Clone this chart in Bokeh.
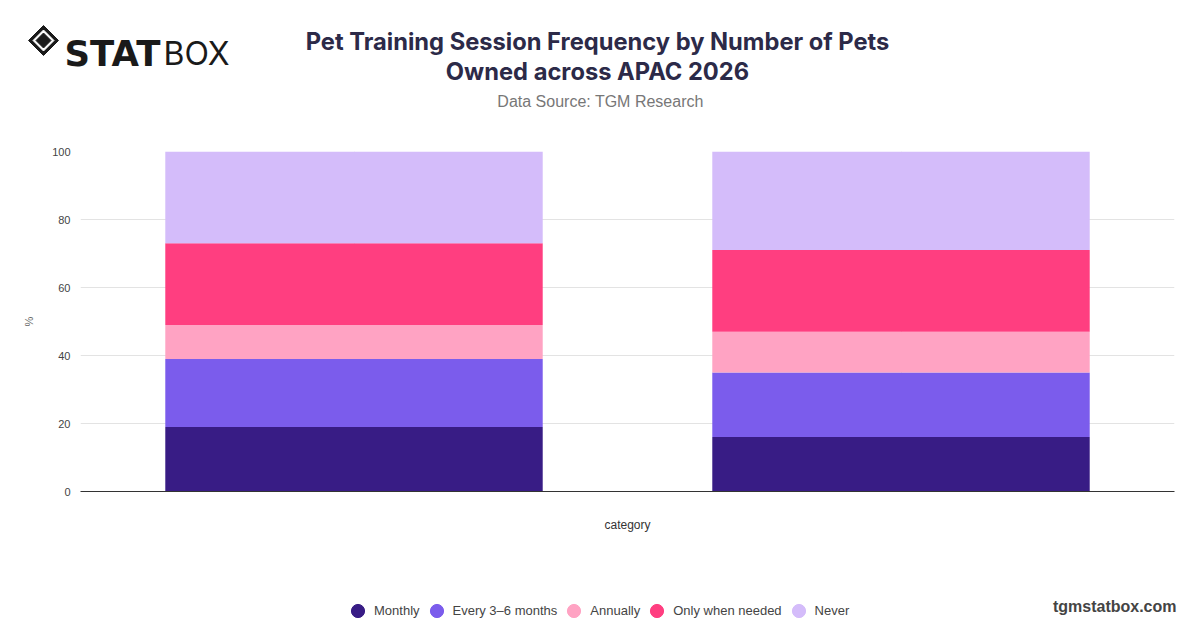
from bokeh.plotting import figure
from bokeh.layouts import column, row
from bokeh.models import (FactorRange, Range1d, Label, Legend, LegendItem,
                          PolyAnnotation, FixedTicker, ColumnDataSource, LinearAxis)
from bokeh.embed import file_html
from bokeh.resources import INLINE

# ---- data ----
categories = ["One pet", "Multiple pets"]
series = ["Monthly", "Every 3\u20136 months", "Annually", "Only when needed", "Never"]
monthly = [19, 16]
every_3_6 = [20, 19]
annually = [10, 12]
only_when_needed = [24, 24]
never = [27, 29]
colors = ["#381c85", "#7b5cec", "#ffa3c3", "#ff3e80", "#d4bcfa"]
y_ticks = [0, 20, 40, 60, 80, 100]

title_1 = "Pet Training Session Frequency by Number of Pets"
title_2 = "Owned across APAC 2026"
subtitle = "Data Source: TGM Research"
site = "tgmstatbox.com"

W = 1190
H_HEAD, H_MAIN, H_FOOT = 143, 413, 68
FX0, FX1 = 80, 1174


def blank(h):
    f = figure(width=W, height=h, x_range=Range1d(0, W), y_range=Range1d(0, h),
               x_axis_type=None, y_axis_type=None, output_backend="svg",
               toolbar_location=None, min_border_left=0, min_border_right=0,
               min_border_top=0, min_border_bottom=0)
    f.outline_line_color = None
    f.xgrid.grid_line_color = None
    f.ygrid.grid_line_color = None
    return f


def lab(f, text, x, y, size, color, font, style="normal", align="center", baseline="middle"):
    f.add_layout(Label(x=x, y=y, text=text, text_font=font, text_font_size=size,
                       text_color=color, text_font_style=style, text_align=align,
                       text_baseline=baseline))


def diamond(f, cx, cy, r, color):
    f.add_layout(PolyAnnotation(xs=[cx - r, cx, cx + r, cx], ys=[cy, cy + r, cy, cy - r],
                                fill_color=color, fill_alpha=1.0, line_color=color,
                                line_alpha=1.0, line_width=1, line_join="round"))


# ---- header ----
head = blank(H_HEAD)
lab(head, title_1, 597, 102, "23.7px", "#2c2a48", "Inter", "bold")
lab(head, title_2, 597, 72, "23.7px", "#2c2a48", "Inter", "bold")
lab(head, subtitle, 600, 42, "16px", "#777777", "Liberation Sans")
lab(head, "STAT", 64, 90, "35.5px", "#1a1a1a", "DejaVu Sans", "bold", "left", "alphabetic")
lab(head, "BOX", 163, 90, "32px", "#1a1a1a", "Inter", "normal", "left", "alphabetic")
diamond(head, 43, 103, 15, "#1a1a1a")
diamond(head, 43, 103, 10.5, "#ffffff")
diamond(head, 43, 103, 7.5, "#1a1a1a")

# ---- main chart ----
keys = ["monthly", "every", "annually", "only", "never"]
source = ColumnDataSource(dict(x=categories, monthly=monthly, every=every_3_6,
                               annually=annually, only=only_when_needed, never=never))

p = figure(width=W, height=H_MAIN, x_range=FactorRange(*categories, range_padding=0),
           y_range=Range1d(0, 100), output_backend="svg", toolbar_location=None,
           x_axis_location=None,
           min_border_left=FX0, min_border_right=W - FX1, min_border_top=8,
           min_border_bottom=H_MAIN - 348)
p.outline_line_color = None

p.vbar_stack(keys, x="x", width=0.69, color=colors, source=source, line_color=None)

p.yaxis.ticker = FixedTicker(ticks=y_ticks)
p.yaxis.axis_line_color = None
p.yaxis.major_tick_line_color = None
p.yaxis.major_tick_out = 0
p.yaxis.minor_tick_line_color = None
p.yaxis.major_label_standoff = 10
p.yaxis.major_label_text_font = "Liberation Sans"
p.yaxis.major_label_text_font_size = "11px"
p.yaxis.major_label_text_color = "#444444"
p.yaxis.axis_label = "%"
p.yaxis.axis_label_text_font = "Liberation Sans"
p.yaxis.axis_label_text_font_size = "11px"
p.yaxis.axis_label_text_font_style = "normal"
p.yaxis.axis_label_text_color = "#666666"
p.yaxis.axis_label_standoff = 14

xaxis = LinearAxis(ticker=FixedTicker(ticks=[]), axis_label="category",
                   axis_line_color="#333333", major_tick_line_color=None,
                   minor_tick_line_color=None, major_tick_out=0,
                   axis_label_text_font="Liberation Sans",
                   axis_label_text_font_size="12px",
                   axis_label_text_font_style="normal",
                   axis_label_text_color="#333333", axis_label_standoff=26)
p.add_layout(xaxis, "below")

p.ygrid.grid_line_color = "#e3e3e3"
p.ygrid.ticker = FixedTicker(ticks=y_ticks)

# ---- footer with legend ----
foot = blank(H_FOOT)
items = []
nan = float("nan")
for name, col in zip(series, colors):
    r = foot.scatter(x=[nan], y=[nan], marker="circle", color=col, size=14)
    items.append(LegendItem(label=name, renderers=[r]))
legend = Legend(items=items, orientation="horizontal", location=(341, -4),
                glyph_width=33, glyph_height=35, label_standoff=0, spacing=0,
                padding=0, margin=0, border_line_color=None,
                background_fill_alpha=0, label_text_font="Liberation Sans",
                label_text_font_size="13px", label_text_color="#444444",
                label_height=20)
foot.add_layout(legend, "center")
lab(foot, site, 1176, 18, "16px", "#444444", "Liberation Sans", "bold", "right")

layout = column(row(head), p, row(foot), spacing=0)
open("out.html", "w").write(file_html(layout, INLINE))
